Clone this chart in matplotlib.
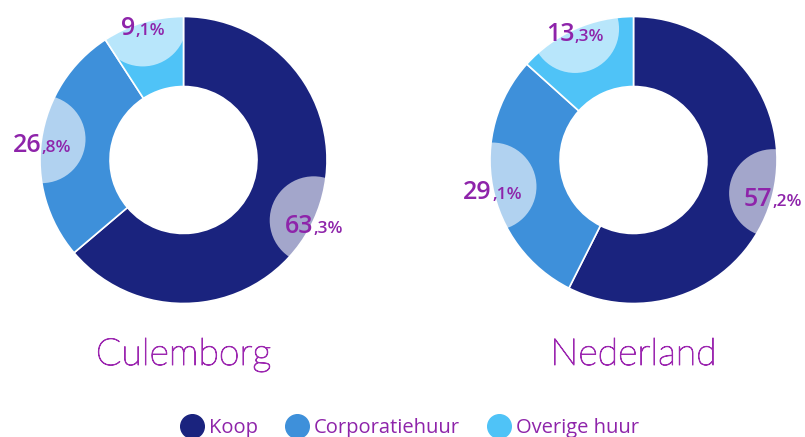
import numpy as np
import matplotlib.pyplot as plt
import matplotlib.patheffects as pe
from matplotlib.patches import Circle
from matplotlib.lines import Line2D

# data
categories = ['Koop', 'Corporatiehuur', 'Overige huur']
regions = ['Culemborg', 'Nederland']
culemborg = [63.3, 26.8, 9.1]
nederland = [57.2, 29.1, 13.3]

colors = ['#1a237e', '#3e90da', '#4fc3f7']
label_color = '#8e24aa'
title_color = '#9c27b0'

W, H = 805, 437
fig = plt.figure(figsize=(W / 100, H / 100), dpi=100)
ax = fig.add_axes([0, 0, 1, 1])

# pixel-like data coords
centers = [(183.5, 277), (633.5, 277)]
R = 143.5

all_wedges = []
for vals, (cx, cy) in zip([culemborg, nederland], centers):
    wedges, _ = ax.pie(vals, colors=colors, center=(cx, cy), radius=R,
                       startangle=90, counterclock=False,
                       wedgeprops=dict(width=R * 0.488, edgecolor='white', linewidth=1.2))
    all_wedges.append(wedges)

ax.set_xlim(0, W)
ax.set_ylim(0, H)
ax.set_aspect('equal')
ax.axis('off')

renderer = fig.canvas.get_renderer()

for name, vals, wedges, (cx, cy) in zip(regions, [culemborg, nederland], all_wedges, centers):
    for w, v in zip(wedges, vals):
        mid = np.deg2rad((w.theta1 + w.theta2) / 2)
        px, py = cx + R * np.cos(mid), cy + R * np.sin(mid)
        c = Circle((px, py), 44, facecolor='white', alpha=0.6, edgecolor='none')
        ax.add_patch(c)
        c.set_clip_path(w)

        big, dec = ('%.1f' % v).split('.')
        t1 = ax.text(0, 0, big, fontsize=18, family='Open Sans', weight='semibold',
                     color=label_color, ha='left', va='baseline')
        t2 = ax.text(0, 0, ',' + dec + '%', fontsize=12.5, family='Open Sans',
                     weight='semibold', color=label_color, ha='left', va='baseline')
        w1 = t1.get_window_extent(renderer).width
        w2 = t2.get_window_extent(renderer).width
        x0 = px - (w1 + w2) / 2
        base = py - 12.5
        t1.set_position((x0, base))
        t2.set_position((x0 + w1, base))

    ax.text(cx, 72, name, ha='center', va='baseline', fontsize=27,
            family='Lato', weight='light', color=title_color,
            path_effects=[pe.withStroke(linewidth=0.7, foreground=title_color)])

handles = [Line2D([], [], marker='o', ls='none', markersize=17,
                  markerfacecolor=c, markeredgecolor=c) for c in colors]
ax.legend(handles, categories, loc='center', bbox_to_anchor=(410 / W, 9 / H),
          ncol=3, frameon=False, prop={'family': 'Open Sans', 'size': 14.5},
          labelcolor=label_color, handlelength=1.1, handletextpad=0.3,
          columnspacing=1.4, borderpad=0)

fig.savefig('out.png', dpi=100)
